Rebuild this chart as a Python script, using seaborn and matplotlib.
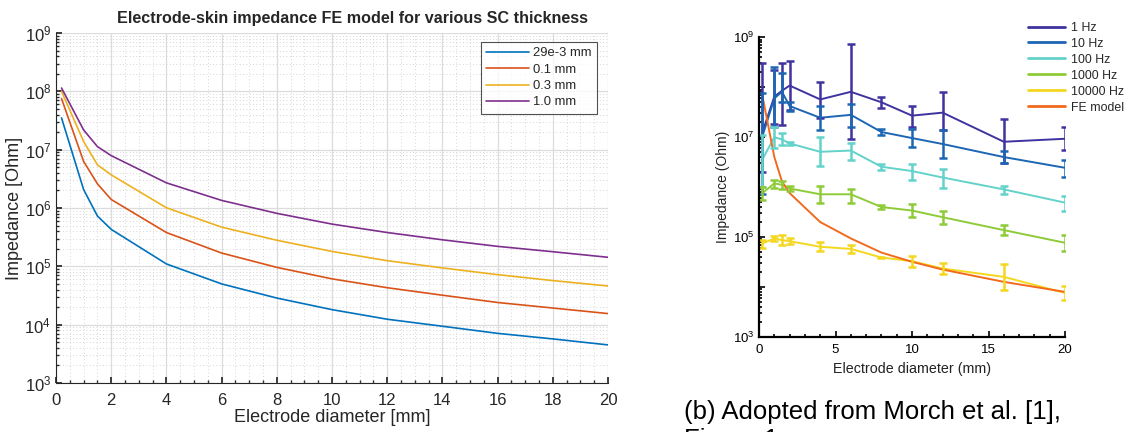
import numpy as np
import pandas as pd
import matplotlib
matplotlib.use("Agg")
import matplotlib.pyplot as plt
import matplotlib.ticker as mticker
import seaborn as sns

# ---- FE model: impedance vs electrode diameter for several SC thicknesses ----
diam = [0.2, 1, 1.5, 2, 4, 6, 8, 10, 12, 14, 16, 18, 20]
sc_labels = ["29e-3 mm", "0.1 mm", "0.3 mm", "1.0 mm"]
z_sc_029 = [3.5e7, 2.07e6, 7.3e5, 4.3e5, 1.1e5, 5.0e4, 2.86e4, 1.81e4, 1.24e4, 9.4e3, 7.1e3, 5.7e3, 4.5e3]
z_sc_01 = [7.5e7, 6.3e6, 2.6e6, 1.4e6, 3.8e5, 1.69e5, 9.6e4, 6.1e4, 4.3e4, 3.2e4, 2.4e4, 1.93e4, 1.55e4]
z_sc_03 = [1.0e8, 1.38e7, 5.5e6, 3.7e6, 1.01e6, 4.7e5, 2.8e5, 1.8e5, 1.25e5, 9.4e4, 7.2e4, 5.7e4, 4.6e4]
z_sc_10 = [1.14e8, 2.18e7, 1.13e7, 7.9e6, 2.7e6, 1.35e6, 8.1e5, 5.3e5, 3.8e5, 2.85e5, 2.2e5, 1.78e5, 1.43e5]

# ---- Measured impedance (mean with error bars) at several frequencies ----
meas_diam = [0.2, 1, 1.5, 2, 4, 6, 8, 10, 12, 16, 20]
freq_labels = ["1 Hz", "10 Hz", "100 Hz", "1000 Hz", "10000 Hz"]
z_1hz = [1.2e7, 6.5e7, 8.5e7, 1.08e8, 5.7e7, 8.1e7, 5.0e7, 2.7e7, 3.1e7, 8.1e6, 9.3e6]
lo_1hz = [2.0e6, 1.8e7, 1.74e7, 3.5e7, 2.45e7, 9.1e6, 3.9e7, 1.6e7, 1.4e7, 3.0e6, 5.5e6]
hi_1hz = [3.0e8, 2.2e8, 3.0e8, 3.4e8, 1.26e8, 7.4e8, 6.3e7, 4.2e7, 7.9e7, 2.3e7, 1.6e7]
z_10hz = [1.0e7, 6.0e7, 8.1e7, 4.2e7, 2.45e7, 2.8e7, 1.27e7, 9.6e6, 7.3e6, 4.0e6, 2.44e6]
lo_10hz = [7.4e5, 1.6e7, 5.1e7, 3.4e7, 1.4e7, 1.6e7, 1.1e7, 6.5e6, 3.8e6, 3.0e6, 1.6e6]
hi_10hz = [7.6e7, 2.6e8, 1.9e8, 5.1e7, 4.2e7, 4.6e7, 1.45e7, 1.48e7, 1.38e7, 5.4e6, 3.5e6]
z_100hz = [3.5e6, 1.0e7, 9.0e6, 7.5e6, 5.1e6, 5.4e6, 2.56e6, 2.1e6, 1.56e6, 9.0e5, 4.9e5]
lo_100hz = [1.0e6, 6.0e6, 7.0e6, 6.9e6, 2.7e6, 3.5e6, 2.2e6, 1.38e6, 9.8e5, 7.4e5, 3.4e5]
hi_100hz = [1.1e7, 1.6e7, 1.2e7, 8.1e6, 1.0e7, 7.8e6, 2.9e6, 2.95e6, 2.3e6, 1.07e6, 6.8e5]
z_1khz = [7.5e5, 1.19e6, 1.11e6, 9.4e5, 7.2e5, 7.2e5, 4.0e5, 3.4e5, 2.5e5, 1.38e5, 7.7e4]
lo_1khz = [5.5e5, 9.8e5, 9.1e5, 8.3e5, 4.9e5, 4.9e5, 3.7e5, 2.5e5, 1.8e5, 1.1e5, 5.2e4]
hi_1khz = [1.0e6, 1.41e6, 1.32e6, 1.05e6, 1.05e6, 9.1e5, 4.3e5, 4.5e5, 3.4e5, 1.74e5, 1.1e5]
z_10khz = [7.4e4, 9.4e4, 8.7e4, 8.3e4, 6.4e4, 5.8e4, 3.9e4, 3.3e4, 2.35e4, 1.6e4, 7.6e3]
lo_10khz = [6.0e4, 8.5e4, 6.9e4, 7.2e4, 5.2e4, 4.8e4, 3.8e4, 2.5e4, 1.8e4, 8.9e3, 5.5e3]
hi_10khz = [8.7e4, 1.07e5, 1.09e5, 9.4e4, 8.1e4, 7.1e4, 4.0e4, 4.2e4, 3.1e4, 2.9e4, 1.05e4]
fe_label = "FE model"
fe_z = [7.3e7, 4.0e6, 1.3e6, 7.6e5, 2.0e5, 9.4e4, 4.9e4, 3.2e4, 2.24e4, 1.27e4, 8.0e3]

caption_lines = ["(b) Adopted from Morch et al. [1],", "Figure 1."]

sns.set_theme(style="white")
plt.rcParams["font.family"] = ["Liberation Sans", "DejaVu Sans"]
plt.rcParams["mathtext.fontset"] = "custom"
plt.rcParams["mathtext.rm"] = "Liberation Sans"
plt.rcParams["mathtext.it"] = "Liberation Sans:italic"
plt.rcParams["mathtext.bf"] = "Liberation Sans:bold"

fig = plt.figure(figsize=(11.27, 4.32), dpi=100)
fig.patch.set_facecolor("white")

# ================= left panel =================
ax1 = fig.add_axes([0.0497, 0.1134, 0.4898, 0.8102])
sc_colors = ["#0072BD", "#D95319", "#EDB120", "#7E2F8E"]
df_sc = pd.DataFrame({
    "diam": diam * 4,
    "z": z_sc_029 + z_sc_01 + z_sc_03 + z_sc_10,
    "sc": [lab for lab in sc_labels for _ in diam],
})
sns.lineplot(data=df_sc, x="diam", y="z", hue="sc", hue_order=sc_labels,
             palette=sc_colors, linewidth=1.2, ax=ax1, legend=True)
ax1.set_yscale("log")
ax1.set_xlim(0, 20)
ax1.set_ylim(1e3, 1e9)
ax1.xaxis.set_major_locator(mticker.MultipleLocator(2))
ax1.xaxis.set_minor_locator(mticker.MultipleLocator(0.5))
ax1.yaxis.set_major_locator(mticker.LogLocator(base=10, numticks=20))
ax1.yaxis.set_minor_locator(mticker.LogLocator(base=10, subs=np.arange(2, 10), numticks=20))
ax1.yaxis.set_major_formatter(mticker.LogFormatterMathtext())
ax1.yaxis.set_minor_formatter(mticker.NullFormatter())
ax1.grid(True, which="major", color="#DCDCDC", linewidth=0.9, linestyle="-")
ax1.grid(True, which="minor", color="#C8C8C8", linewidth=0.6, linestyle=(0, (1, 3)))
ax1.set_axisbelow(True)
for side in ["top", "right"]:
    ax1.spines[side].set_visible(False)
for side in ["left", "bottom"]:
    ax1.spines[side].set_color("#262626")
    ax1.spines[side].set_linewidth(0.8)
ax1.tick_params(which="both", direction="in", colors="#262626", labelsize=12,
                left=True, bottom=True)
ax1.tick_params(axis="x", pad=7)
ax1.tick_params(which="major", length=4)
ax1.tick_params(which="minor", length=2)
ax1.set_title("Electrode-skin impedance FE model for various SC thickness",
              fontsize=11.6, fontweight="bold", pad=7, x=0.538)
ax1.set_xlabel("Electrode diameter [mm]", fontsize=13, color="#262626", labelpad=1)
ax1.set_ylabel("Impedance [Ohm]", fontsize=13, color="#262626", labelpad=1)
leg1 = ax1.legend(title=None, loc="upper right", bbox_to_anchor=(0.98, 0.974),
                  fontsize=9.4, frameon=True, fancybox=False, edgecolor="#262626",
                  handlelength=3.3, borderpad=0.4, labelspacing=0.32, handletextpad=0.3,
                  borderaxespad=0)
leg1.get_frame().set_linewidth(0.8)

# ================= right panel =================
ax2 = fig.add_axes([0.6735, 0.2199, 0.2715, 0.6938])
freq_colors = ["#3F33A0", "#1C66B4", "#63D2CA", "#8FCB38", "#F4D71F"]
fe_color = "#F26A1E"
z_series = [z_1hz, z_10hz, z_100hz, z_1khz, z_10khz]
lo_series = [lo_1hz, lo_10hz, lo_100hz, lo_1khz, lo_10khz]
hi_series = [hi_1hz, hi_10hz, hi_100hz, hi_1khz, hi_10khz]

df_meas = pd.DataFrame({
    "diam": meas_diam * 6,
    "z": sum(z_series, []) + fe_z,
    "series": [lab for lab in freq_labels + [fe_label] for _ in meas_diam],
})
sns.lineplot(data=df_meas, x="diam", y="z", hue="series",
             hue_order=freq_labels + [fe_label],
             palette=freq_colors + [fe_color], linewidth=1.4, ax=ax2, legend=True)
for z, lo, hi, col in zip(z_series, lo_series, hi_series, freq_colors):
    z = np.array(z)
    yerr = np.vstack([z - np.array(lo), np.array(hi) - z])
    ax2.errorbar(meas_diam, z, yerr=yerr, fmt="none", ecolor=col,
                 elinewidth=1.8, capsize=2.8, capthick=1.8)
ax2.set_yscale("log")
ax2.set_xlim(0, 20)
ax2.set_ylim(1e3, 1e9)
ax2.xaxis.set_major_locator(mticker.MultipleLocator(5))
ax2.xaxis.set_minor_locator(mticker.MultipleLocator(1))
ax2.yaxis.set_major_locator(mticker.LogLocator(base=10, numticks=20))
ax2.yaxis.set_minor_locator(mticker.LogLocator(base=10, subs=np.arange(2, 10), numticks=20))


def odd_decade(val, pos):
    e = int(round(np.log10(val)))
    return r"$10^{%d}$" % e if e % 2 == 1 else ""


ax2.yaxis.set_major_formatter(mticker.FuncFormatter(odd_decade))
ax2.yaxis.set_minor_formatter(mticker.NullFormatter())
ax2.grid(False)
for side in ["top", "right"]:
    ax2.spines[side].set_visible(False)
for side in ["left", "bottom"]:
    ax2.spines[side].set_color("black")
    ax2.spines[side].set_linewidth(1.6)
ax2.tick_params(which="both", direction="in", colors="black", labelsize=9.5,
                left=True, bottom=True, width=1.2)
ax2.tick_params(axis="x", pad=5)
ax2.tick_params(which="major", length=4)
ax2.tick_params(which="minor", length=2)
ax2.set_xlabel("Electrode diameter (mm)", fontsize=10.3, color="#222222", labelpad=4)
ax2.set_ylabel("Impedance (Ohm)", fontsize=10, color="#222222", labelpad=2)
leg2 = ax2.legend(title=None, loc="upper left", bbox_to_anchor=(0.864, 1.068),
                  fontsize=8.9, frameon=False, handlelength=2.95,
                  labelspacing=0.32, handletextpad=0.5, borderaxespad=0)
for line in leg2.get_lines():
    line.set_linewidth(2.0)

# ---- caption under the right panel (second line runs past the bottom edge) ----
fig.text(0.607, 1 - 419 / 432, caption_lines[0],
         fontsize=18.5, color="black", ha="left", va="baseline")
fig.text(0.607, 1 - 447 / 432, caption_lines[1],
         fontsize=18.5, color="black", ha="left", va="baseline")

fig.savefig("out.png", dpi=100, facecolor="white")
